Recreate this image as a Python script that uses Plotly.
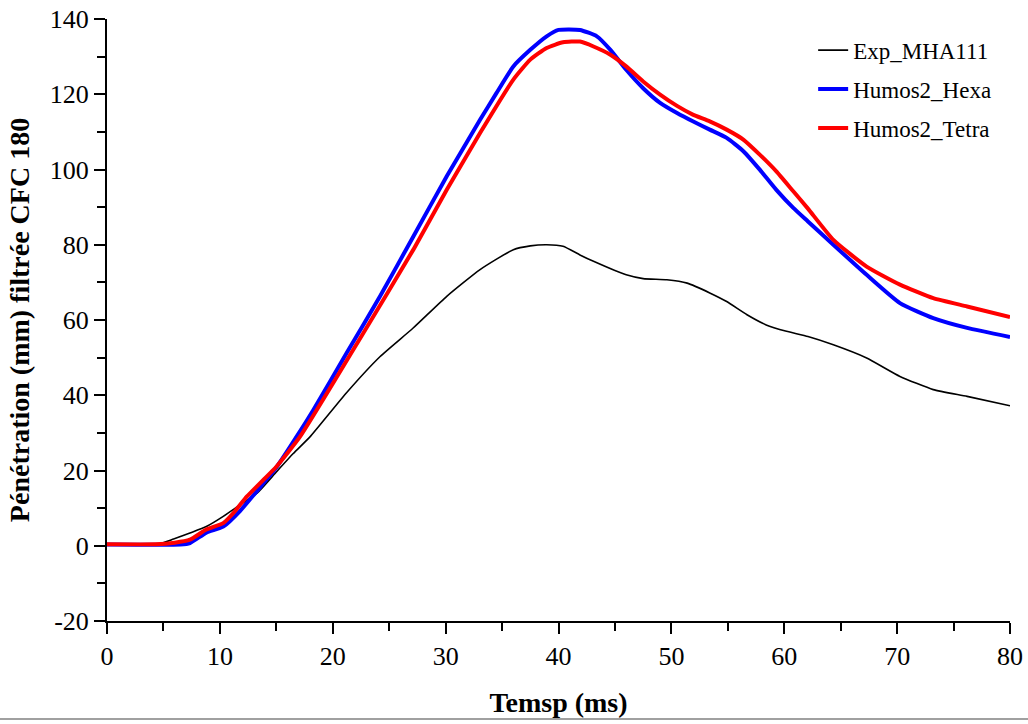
import plotly.graph_objects as go

# ---- data ----
t_exp = [0, 4.4, 5.9, 7.35, 8.8, 10.3, 11.8, 13.3, 15, 16.5, 18.0, 21.2, 24.2, 27.1, 30.1,
         33.05, 36.0, 37.5, 38.95, 40.4, 41.9, 43.1, 46.0, 47.5, 49.6, 51.4, 53.4, 54.9,
         56.7, 58.4, 60.2, 62.1, 64.35, 67.3, 70.25, 73.2, 76.2, 80]
exp_vals = [0.3, 0.3, 1.8, 3.4, 5.1, 7.8, 10.9, 14.0, 19.6, 24.5, 29.0, 40.6, 50.3, 57.8, 66.3,
            73.4, 78.7, 79.7, 80.0, 79.6, 77.3, 75.6, 72.0, 71.0, 70.7, 69.8, 67.2, 64.9,
            61.4, 58.7, 57.0, 55.6, 53.4, 49.9, 45.0, 41.5, 39.7, 37.2]

t_hexa = [0, 6.5, 7.35, 8.8, 10.3, 11.8, 13.85, 15, 16.8, 18.28, 21.23, 24.19, 27.14, 30.1,
          33.05, 34.5, 36.0, 37.5, 38.95, 40.0, 41.9, 43.4, 44.6, 46.0, 47.5, 49.0, 50.5,
          51.9, 53.4, 54.9, 56.4, 57.85, 59.3, 60.8, 62.1, 64.35, 67.3, 70.25, 73.2, 76.2, 80]
hexa_vals = [0.3, 0.3, 0.7, 3.5, 5.1, 9.3, 16.6, 20.8, 29.0, 36.1, 51.2, 66.3, 82.2, 98.2,
             113.2, 120.3, 127.4, 131.8, 135.4, 137.1, 137.1, 135.4, 131.8, 126.5, 121.6, 117.7, 115.0,
             112.8, 110.6, 108.4, 104.8, 99.9, 94.6, 89.8, 86.2, 80.0, 72.0, 64.5, 60.5, 57.9, 55.5]

t_tetra = [0, 4.3, 6.0, 7.35, 8.8, 10.3, 11.2, 12.4, 13.85, 15, 17.1, 22.7, 27.14, 30.1,
           33.05, 36.0, 37.5, 38.95, 40.4, 41.9, 43.1, 44.6, 46.0, 47.5, 49.0, 50.5, 51.9,
           53.4, 54.9, 56.4, 57.85, 59.3, 60.8, 62.1, 64.35, 67.3, 70.25, 73.2, 76.2, 80]
tetra_vals = [0.4, 0.4, 0.8, 1.6, 4.3, 6.0, 8.7, 13.1, 17.5, 21.0, 29.0, 56.5, 78.7, 94.6,
              109.7, 123.9, 129.2, 132.3, 133.8, 134.0, 132.7, 130.5, 127.4, 123.4, 119.9, 116.9, 114.6,
              112.8, 110.6, 107.9, 103.9, 99.5, 94.2, 89.6, 81.3, 74.2, 69.4, 65.8, 63.6, 60.8]

x_ticks = [0, 10, 20, 30, 40, 50, 60, 70, 80]
y_ticks = [-20, 0, 20, 40, 60, 80, 100, 120, 140]
y_tick_labels = ["-20", "0", "20", "40", "60", "80", "100", "120", "140"]

FONT = "Liberation Serif"

fig = go.Figure()
fig.add_trace(go.Scatter(x=t_exp, y=exp_vals, mode="lines", name="Exp_MHA111",
                         line=dict(color="black", width=1.6, shape="spline", smoothing=0.5),
                         legendgroup="a"))
fig.add_trace(go.Scatter(x=t_hexa, y=hexa_vals, mode="lines", name="Humos2_Hexa",
                         line=dict(color="#0000ff", width=4, shape="spline", smoothing=0.5),
                         legendgroup="b"))
fig.add_trace(go.Scatter(x=t_tetra, y=tetra_vals, mode="lines", name="Humos2_Tetra",
                         line=dict(color="#ff0000", width=4, shape="spline", smoothing=0.5),
                         legendgroup="c"))

axis_common = dict(
    showgrid=False, zeroline=False, showline=True, linecolor="black", linewidth=2,
    ticks="outside", ticklen=11, tickwidth=2, tickcolor="black",
    tickfont=dict(family=FONT, size=26, color="black"), mirror=False,
    ticklabeloverflow="allow",
)

fig.update_xaxes(range=[0, 80], tickvals=x_ticks, ticktext=[str(v) for v in x_ticks],
                 minor=dict(dtick=5, tick0=0, ticks="outside", ticklen=8, tickwidth=2, tickcolor="black"),
                 title=dict(text="<b>Temsp (ms)</b>", font=dict(family=FONT, size=28, color="black"),
                            standoff=22),
                 **axis_common)
fig.update_yaxes(range=[-20, 140], tickvals=y_ticks, ticktext=y_tick_labels,
                 minor=dict(dtick=10, tick0=0, ticks="outside", ticklen=8, tickwidth=2, tickcolor="black"),
                 title=dict(text="<b>Pénétration (mm) filtrée CFC 180</b>",
                            font=dict(family=FONT, size=28, color="black"), standoff=12),
                 **axis_common)

fig.add_shape(type="line", xref="paper", yref="paper", x0=-0.2, x1=1.1, y0=-0.1628, y1=-0.1628,
              line=dict(color="#a0a0a0", width=2))

fig.update_layout(
    width=1028, height=724,
    margin=dict(l=107, r=18, t=19, b=103, autoexpand=False),
    plot_bgcolor="white", paper_bgcolor="white",
    font=dict(family=FONT, color="black"),
    legend=dict(x=0.782, y=0.984, xanchor="left", yanchor="top",
                font=dict(family=FONT, size=23, color="black"),
                bgcolor="rgba(0,0,0,0)", tracegroupgap=6),
    showlegend=True,
)

fig.write_html("out.html", config={"displayModeBar": False},
               post_script="document.body.style.margin='0';document.body.style.overflow='hidden';")
